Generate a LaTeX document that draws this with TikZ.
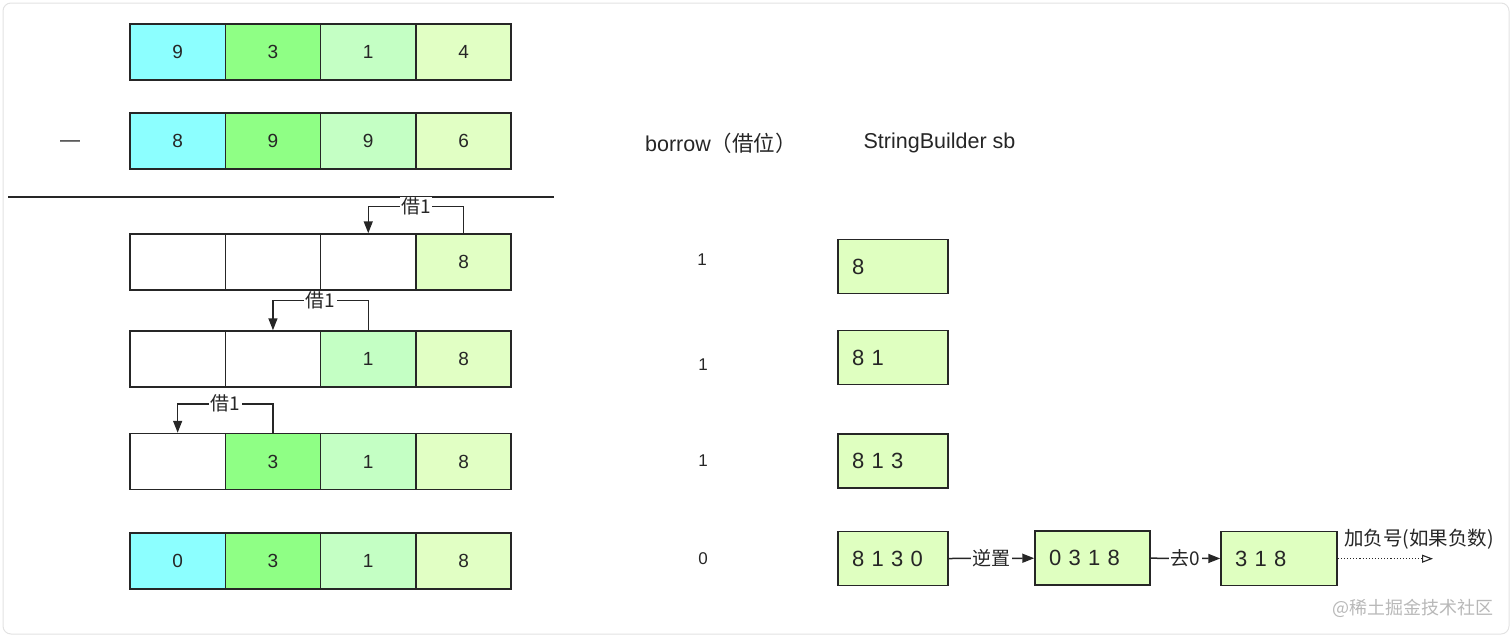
\documentclass[tikz,border=0pt]{standalone}
\usepackage{fontspec}
\setmainfont{Liberation Sans}
\newfontfamily\cjk{Noto Sans CJK SC}
\usetikzlibrary{arrows.meta}
\definecolor{cA}{HTML}{8CFFFF}
\definecolor{cB}{HTML}{8FFF85}
\definecolor{cC}{HTML}{C4FFC4}
\definecolor{cD}{HTML}{E1FFC4}
\definecolor{sbc}{HTML}{DFFFC0}
\definecolor{ink}{HTML}{262626}
\definecolor{frame}{HTML}{E2E2E2}
\begin{document}
\begin{tikzpicture}[x=1pt,y=-1pt,
  cell/.style={draw=ink, line width=1.5pt, minimum width=95.3pt, minimum height=56pt,
    inner sep=0pt, font=\fontsize{19}{20}\selectfont, text=ink},
  sbbox/.style={draw=ink, line width=1.5pt, fill=sbc, minimum height=54pt,
    inner xsep=14pt, inner ysep=0pt, align=left, text=ink,
    font=\fontsize{22}{23}\selectfont},
  lbl/.style={fill=white, inner xsep=1.5pt, inner ysep=1pt, text=ink,
    font=\cjk\fontsize{19}{20}\selectfont},
  hdr/.style={text=ink, font=\fontsize{21.5}{24}\selectfont, inner sep=0pt},
  bval/.style={text=ink, font=\fontsize{17}{18}\selectfont, inner sep=0pt},
  arr/.style={draw=ink, line width=1.5pt, -{Triangle[length=12pt,width=9pt]}},
  darr/.style={draw=ink, line width=1.1pt, dotted, -{Triangle[open,length=11pt,width=8pt]}}
]
\useasboundingbox (0,0) rectangle (1512,637);
\draw[frame, line width=1pt, rounded corners=8pt] (3,3) rectangle (1509,634);

% row 1
\node[cell, fill=cA] (r1c1) at (177.65,52) {9};
\node[cell, fill=cB] (r1c2) at (272.95,52) {3};
\node[cell, fill=cC] (r1c3) at (368.25,52) {1};
\node[cell, fill=cD] (r1c4) at (463.55,52) {4};
% row 2
\node[cell, fill=cA] (r2c1) at (177.65,141) {8};
\node[cell, fill=cB] (r2c2) at (272.95,141) {9};
\node[cell, fill=cC] (r2c3) at (368.25,141) {9};
\node[cell, fill=cD] (r2c4) at (463.55,141) {6};
\node[text=ink, font=\fontsize{20}{22}\selectfont, inner sep=0pt] (minus) at (70,144) {—};

% separator
\coordinate (sepL) at (8,197);
\coordinate (sepR) at (554,197);
\draw[ink, line width=1.3pt] (sepL) -- (sepR);

% row 3
\node[cell] (r3c1) at (177.65,262) {};
\node[cell] (r3c2) at (272.95,262) {};
\node[cell] (r3c3) at (368.25,262) {};
\node[cell, fill=cD] (r3c4) at (463.55,262) {8};
% row 4
\node[cell] (r4c1) at (177.65,359) {};
\node[cell] (r4c2) at (272.95,359) {};
\node[cell, fill=cC] (r4c3) at (368.25,359) {1};
\node[cell, fill=cD] (r4c4) at (463.55,359) {8};
% row 5
\node[cell] (r5c1) at (177.65,461.5) {};
\node[cell, fill=cB] (r5c2) at (272.95,461.5) {3};
\node[cell, fill=cC] (r5c3) at (368.25,461.5) {1};
\node[cell, fill=cD] (r5c4) at (463.55,461.5) {8};
% row 6
\node[cell, fill=cA] (r6c1) at (177.65,561) {0};
\node[cell, fill=cB] (r6c2) at (272.95,561) {3};
\node[cell, fill=cC] (r6c3) at (368.25,561) {1};
\node[cell, fill=cD] (r6c4) at (463.55,561) {8};

% borrow arrows
\draw[arr] (r3c4.north) -- ++(0,-27) -| node[lbl, pos=0.25] {借1} (r3c3.north);
\draw[arr] (r4c3.north) -- ++(0,-30) -| node[lbl, pos=0.25] {借1} (r4c2.north);
\draw[arr] (r5c2.north) -- ++(0,-29) -| node[lbl, pos=0.25] {借1} (r5c1.north);

% headers
\node[hdr] (hborrow) at (721,143) {borrow{\cjk（借位）}};
\node[hdr] (hsb) at (939.5,143) {StringBuilder sb};

% borrow values
\node[bval] (b1) at (702,260) {1};
\node[bval] (b2v) at (703,365) {1};
\node[bval] (b3v) at (703,461) {1};
\node[bval] (b4v) at (703,559) {0};

% sb boxes
\node[sbbox, text width=82pt] (sb1) at (893,266.5) {8};
\node[sbbox, text width=82pt] (sb2) at (893,357.5) {8 1};
\node[sbbox, text width=82pt] (sb3) at (893,461) {8 1 3};
\node[sbbox, text width=82pt] (sb4) at (893,558.7) {8 1 3 0};
\node[sbbox, text width=87pt] (sb5) at (1092.5,558) {0 3 1 8};
\node[sbbox, text width=88pt] (sb6) at (1279,558.7) {3 1 8};

\draw[arr] (sb4) -- node[lbl] {逆置} (sb5);
\draw[arr] (sb5) -- node[lbl] {去0} (sb6);
\coordinate (negEnd) at (1433,558.7);
\draw[darr] (sb6) -- (negEnd);
\node[anchor=west, inner sep=0pt, text=ink, font=\cjk\fontsize{19.5}{21}\selectfont] (neg) at (1344,539) {加负号(如果负数)};

% watermark
\node[anchor=east, inner sep=0pt, text=black!28, font=\cjk\fontsize{18}{19}\selectfont] (wm) at (1494,608) {@稀土掘金技术社区};
\end{tikzpicture}
\end{document}
